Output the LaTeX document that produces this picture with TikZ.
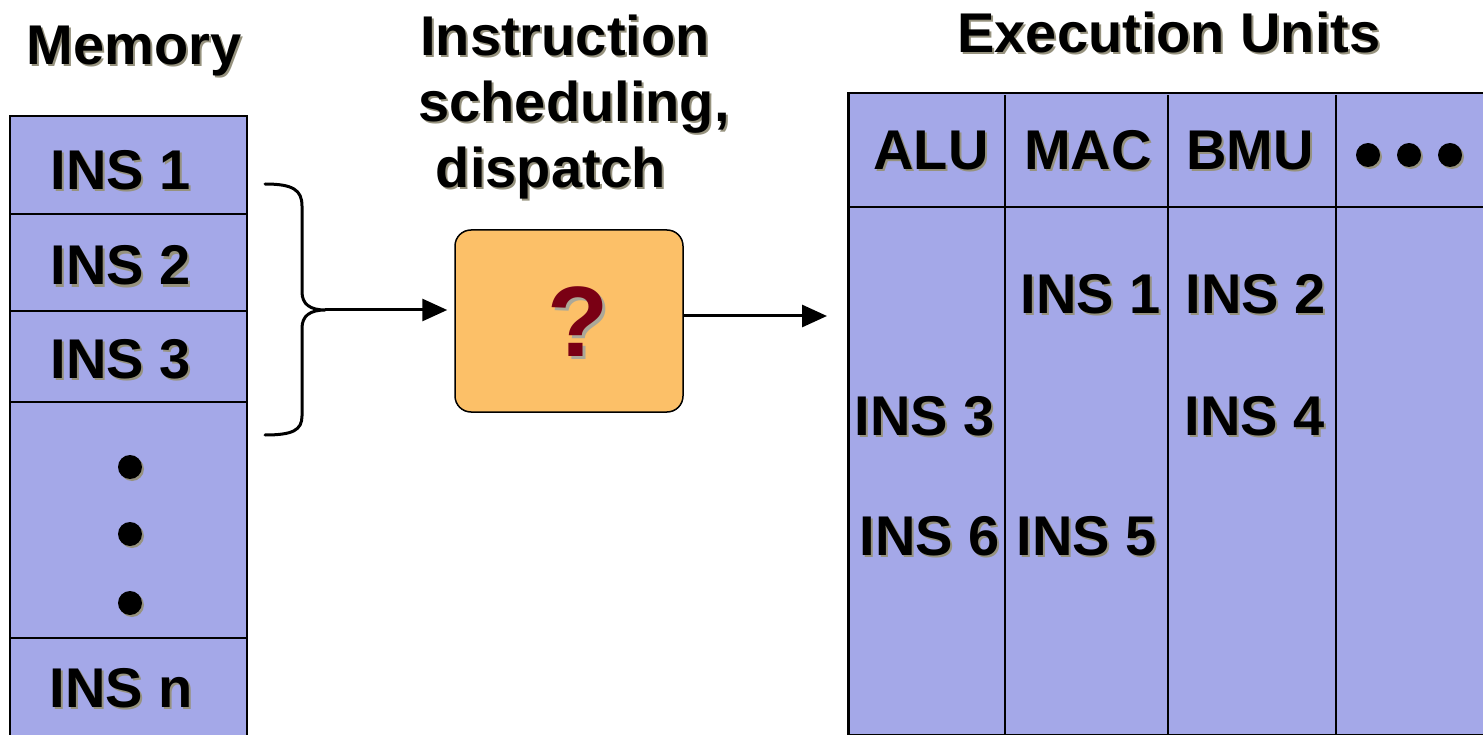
\documentclass[tikz,border=0pt]{standalone}
\usepackage{fontspec}
\setmainfont{Liberation Sans}
\usetikzlibrary{arrows.meta}
\definecolor{cellblue}{RGB}{164,168,232}
\definecolor{boxorange}{RGB}{252,192,104}
\definecolor{qred}{RGB}{122,0,20}
\definecolor{shadowc}{RGB}{150,146,126}
\newcommand\shd[1]{\leavevmode\rlap{\kern2pt\raisebox{-2pt}{\textcolor{shadowc}{#1}}}#1}
\begin{document}
\begin{tikzpicture}[x=1pt,y=-1pt,
  lbl/.style={font=\fontsize{56}{66}\selectfont\bfseries, inner sep=0pt, anchor=base},
  cell/.style={draw=black, line width=2.5pt, fill=cellblue, minimum width=237pt, inner sep=0pt},
  dotm/.style={circle, fill=black, inner sep=0pt, minimum size=24pt},
  dshadow/.style={circle, fill=shadowc, inner sep=0pt, minimum size=24pt},
  arr/.style={line width=3pt, -{Triangle[length=25pt,width=22pt]}},
  tline/.style={line width=2pt, draw=black},
]
\useasboundingbox (0,0) rectangle (1483,735);
\clip (0,0) rectangle (1483,735);

% ---------- Memory ----------
\node[lbl] (memlbl) at (134,65) {\shd{Memory}};
\node[cell, minimum height=98pt]  (m1) at (128.5,165)   {};
\node[cell, minimum height=97pt]  (m2) at (128.5,262.5) {};
\node[cell, minimum height=91pt]  (m3) at (128.5,356.5) {};
\node[cell, minimum height=236pt] (md) at (128.5,520)   {};
\node[cell, minimum height=107pt] (mn) at (128.5,691.5) {};
\node[lbl] (t1) at (121,190) {\shd{INS 1}};
\node[lbl] (t2) at (121,285) {\shd{INS 2}};
\node[lbl] (t3) at (121,378) {\shd{INS 3}};
\node[lbl] (tn) at (121,707) {\shd{INS n}};
\foreach \yy [count=\i] in {467,534,603}{
  \node[dshadow] (ds\i) at (132,\yy+2) {};
  \node[dotm] (dm\i) at (130,\yy) {};
}

% ---------- brace ----------
\coordinate (tip) at (325,310);
\draw[line width=3pt, line cap=round, line join=round]
  (265,184) .. controls (293,184) and (302,190) .. (302,206) -- (302,292)
  .. controls (302,304) and (310,310) .. (tip)
  .. controls (310,310) and (302,316) .. (302,328) -- (302,416)
  .. controls (302,430) and (293,435) .. (265,435);

% ---------- scheduler ----------
\node[lbl, anchor=north, align=center, font=\fontsize{56}{66}\selectfont\bfseries] (schedlbl) at (565,15)
  {\shd{Instruction}\\\hspace*{18pt}\shd{scheduling,}\\\shd{dispatch}\hspace*{28pt}};
\node[draw=black, line width=1.5pt, fill=boxorange, rounded corners=16pt,
      minimum width=228pt, minimum height=182pt, inner sep=0pt] (q) at (569,321) {};
\node[inner sep=0pt, font=\fontsize{100}{100}\selectfont\bfseries, text=qred] (qm) at (578,323)
  {\rlap{\kern3pt\raisebox{-3pt}{\textcolor{shadowc!80}{?}}}?};

\draw[arr, shorten >=7pt] (tip) -- (q.west |- tip);

% ---------- execution units ----------
\node[lbl] (execlbl) at (1169,53) {\shd{Execution Units}};
\node[draw=black, line width=2.5pt, fill=cellblue, minimum width=660pt, minimum height=642pt,
      inner sep=0pt, anchor=north west] (exec) at (847,92) {};
\draw[tline] (847,207) -- (1483,207);
\foreach \xx in {1005,1168,1336}{
  \draw[tline] (\xx,95) -- (\xx,734);
}
\coordinate (o) at (700,316);
\draw[arr, shorten >=20pt] (q.east |- o) -- (exec.west |- o);

\node[lbl] (alu) at (931,170)  {\shd{ALU}};
\node[lbl] (mac) at (1088,170) {\shd{MAC}};
\node[lbl] (bmu) at (1250,170) {\shd{BMU}};
\foreach \xx [count=\i] in {1368,1409,1450}{
  \node[dshadow] (hs\i) at (\xx+2,157) {};
  \node[dotm] (hd\i) at (\xx,155) {};
}

\node[lbl] (e1) at (1091,313) {\shd{INS 1}};
\node[lbl] (e2) at (1256,313) {\shd{INS 2}};
\node[lbl] (e3) at (925,435)  {\shd{INS 3}};
\node[lbl] (e4) at (1255,435) {\shd{INS 4}};
\node[lbl] (e6) at (930,555)  {\shd{INS 6}};
\node[lbl] (e5) at (1087,555) {\shd{INS 5}};
\end{tikzpicture}
\end{document}
